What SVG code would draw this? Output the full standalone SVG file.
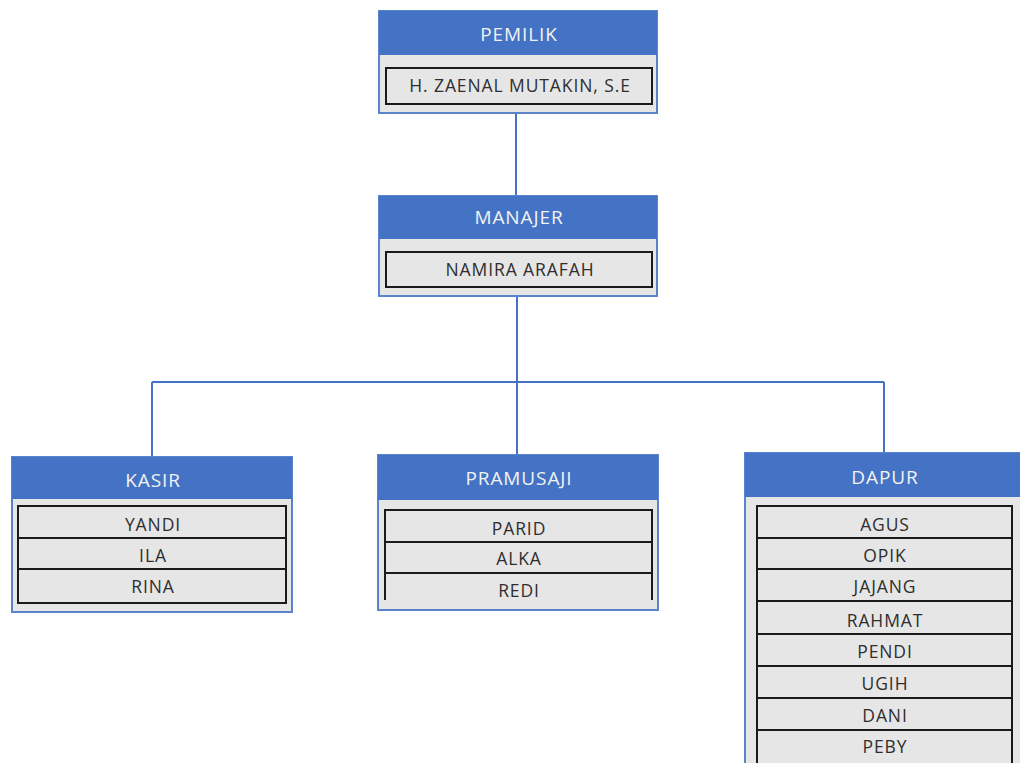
<svg xmlns="http://www.w3.org/2000/svg" width="1020" height="763" viewBox="0 0 1020 763">
<style>
.outer{fill:#E7E6E6;stroke:#5B84CC;stroke-width:2}
.hdr{fill:#4472C4}
.inner{fill:#E7E6E6;stroke:#1A1A1A;stroke-width:2}
.div{stroke:#1A1A1A;stroke-width:2;fill:none}
.ht{font-family:"Open Sans","Liberation Sans",sans-serif;font-size:19px;font-weight:500;letter-spacing:0.9px;fill:#F2F2F2;text-anchor:middle}
.nt{font-family:"Open Sans","Liberation Sans",sans-serif;font-size:17.5px;font-weight:500;letter-spacing:0.9px;fill:#2E2E2E;text-anchor:middle}
.conn{stroke:#4472C4;stroke-width:2;fill:none}
</style>
<rect width="1020" height="763" fill="#FFFFFF"/>
<g id="connectors">
<path class="conn" d="M516 113 V196"/>
<path class="conn" d="M517 296 V455"/>
<path class="conn" d="M152 382 H884"/>
<path class="conn" d="M152 382 V457"/>
<path class="conn" d="M884 382 V453"/>
</g>
<g id="pemilik">
<rect class="outer" x="379" y="11" width="278" height="102"/>
<rect class="hdr" x="379" y="11" width="278" height="44"/>
<text class="ht" x="519" y="41">PEMILIK</text>
<rect class="inner" x="386" y="68" width="266" height="36"/>
<text class="nt" x="520" y="92">H. ZAENAL MUTAKIN, S.E</text>
</g>
<g id="manajer">
<rect class="outer" x="379" y="196" width="278" height="100"/>
<rect class="hdr" x="379" y="196" width="278" height="43"/>
<text class="ht" x="519" y="224">MANAJER</text>
<rect class="inner" x="386" y="252" width="266" height="35"/>
<text class="nt" x="520" y="276">NAMIRA ARAFAH</text>
</g>
<g id="kasir">
<rect class="outer" x="12" y="457" width="280" height="155"/>
<rect class="hdr" x="12" y="457" width="280" height="42"/>
<text class="ht" x="153" y="487">KASIR</text>
<rect class="inner" x="18" y="506" width="268" height="97"/>
<path class="div" d="M18 538 H286 M18 569 H286"/>
<text class="nt" x="153" y="531">YANDI</text>
<text class="nt" x="153" y="562">ILA</text>
<text class="nt" x="153" y="593">RINA</text>
</g>
<g id="pramusaji">
<rect class="outer" x="378" y="455" width="280" height="155"/>
<rect class="hdr" x="378" y="455" width="280" height="45"/>
<text class="ht" x="519" y="485">PRAMUSAJI</text>
<rect x="385" y="510" width="267" height="90" fill="#E7E6E6"/>
<path class="div" d="M385 600 V510 H652 V600 M385 542 H652 M385 573 H652"/>
<text class="nt" x="519" y="535">PARID</text>
<text class="nt" x="519" y="565">ALKA</text>
<text class="nt" x="519" y="597">REDI</text>
</g>
<g id="dapur">
<rect class="outer" x="745" y="453" width="285" height="320"/>
<rect class="hdr" x="745" y="453" width="285" height="44"/>
<text class="ht" x="885" y="484">DAPUR</text>
<rect x="757" y="506" width="255" height="257" fill="#E7E6E6"/>
<path class="div" d="M757 763 V506 H1012 V763 M757 538 H1012 M757 569 H1012 M757 601 H1012 M757 634 H1012 M757 666 H1012 M757 698 H1012 M757 730 H1012"/>
<text class="nt" x="885" y="531">AGUS</text>
<text class="nt" x="885" y="562">OPIK</text>
<text class="nt" x="885" y="593">JAJANG</text>
<text class="nt" x="885" y="627">RAHMAT</text>
<text class="nt" x="885" y="658">PENDI</text>
<text class="nt" x="885" y="690">UGIH</text>
<text class="nt" x="885" y="722">DANI</text>
<text class="nt" x="885" y="753">PEBY</text>
</g>
</svg>
